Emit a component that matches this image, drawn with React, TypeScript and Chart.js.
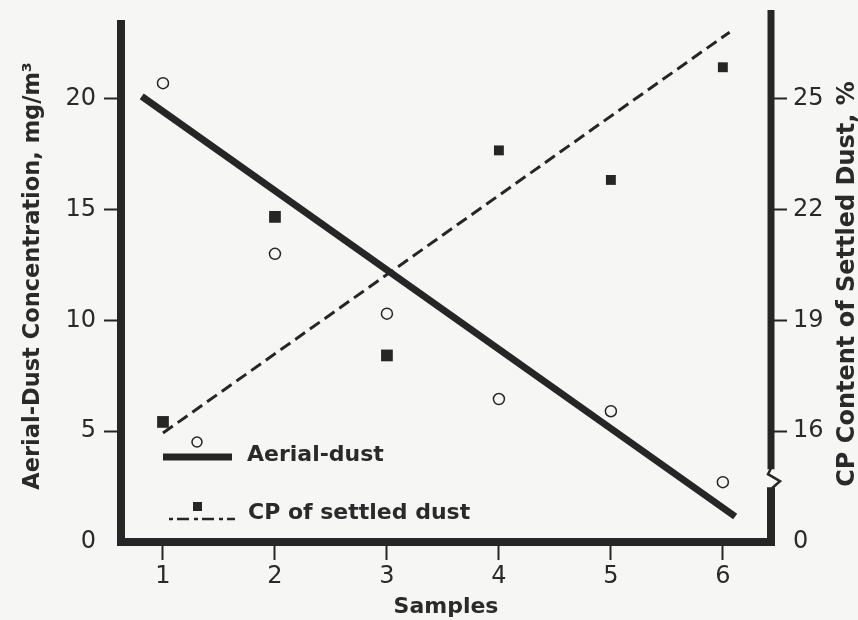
import React, { useEffect, useRef } from 'react';
import { Chart, registerables } from 'chart.js';

Chart.register(...registerables);

// ---- data ----
const SAMPLES = [1, 2, 3, 4, 5, 6];
const AERIAL_DUST = [20.7, 13.0, 10.3, 6.45, 5.9, 2.7]; // mg/m3, open circles
const CP_SETTLED = [16.25, 21.8, 18.05, 23.6, 22.8, 25.85]; // %, filled squares
const AERIAL_TREND_X = [0.81, 6.11];
const AERIAL_TREND_Y = [20.1, 1.15];
const CP_TREND_X = [1.0, 6.06];
const CP_TREND_Y = [15.95, 26.8];

const X_TICKS = [1, 2, 3, 4, 5, 6];
const Y_TICKS = [0, 5, 10, 15, 20];
const Y2_TICKS = [13, 16, 19, 22, 25]; // 13 sits at the axis origin below the break
const Y2_TICK_LABELS = ['0', '16', '19', '22', '25'];
const Y2_BREAK = 14.7;

const X_TITLE = 'Samples';
const Y_TITLE = 'Aerial-Dust Concentration, mg/m\u00B3';
const Y2_TITLE = 'CP Content of Settled Dust, %';
const LEGEND_AERIAL = 'Aerial-dust';
const LEGEND_CP = 'CP of settled dust';

const FONT = '"DejaVu Sans", sans-serif';
const INK = '#262626';
const TEXT = '#2a2a2a';
const BG = '#f6f6f4';

const hideAt = (v: number) => (ctx: any) =>
  ctx.tick && ctx.tick.value === v ? 'rgba(0,0,0,0)' : INK;

const zeroPad = (s: any) => {
  s.paddingTop = 0;
  s.paddingBottom = 0;
  s.paddingLeft = 0;
  s.paddingRight = 0;
};

const decorPlugin = {
  id: 'decor',
  afterDraw(chart: any) {
    const { ctx, chartArea, scales } = chart;
    const xL = chartArea.left;
    const xR = chartArea.right;
    const yB = chartArea.bottom;
    const yT = chartArea.top;
    const yBreak = scales.y2.getPixelForValue(Y2_BREAK);
    ctx.save();
    ctx.strokeStyle = INK;
    ctx.lineCap = 'butt';
    ctx.lineJoin = 'miter';
    // left + bottom + lower right axis
    ctx.lineWidth = 8;
    ctx.beginPath();
    ctx.moveTo(xL, yT + 10);
    ctx.lineTo(xL, yB);
    ctx.lineTo(xR, yB);
    ctx.lineTo(xR, yBreak + 8);
    ctx.stroke();
    // upper right axis
    ctx.lineWidth = 7;
    ctx.beginPath();
    ctx.moveTo(xR, yBreak - 10);
    ctx.lineTo(xR, yT);
    ctx.stroke();
    // zigzag break
    ctx.lineWidth = 2.5;
    ctx.beginPath();
    ctx.moveTo(xR, yBreak - 11);
    ctx.lineTo(xR - 3, yBreak - 5);
    ctx.lineTo(xR + 9, yBreak + 2);
    ctx.lineTo(xR + 1, yBreak + 9);
    ctx.stroke();

    // right axis title (reads bottom to top)
    ctx.fillStyle = TEXT;
    ctx.font = 'bold 24px ' + FONT;
    ctx.textAlign = 'center';
    ctx.textBaseline = 'middle';
    ctx.save();
    ctx.translate(xR + 77, (yT + yB) / 2 + 8);
    ctx.rotate(-Math.PI / 2);
    ctx.fillText(Y2_TITLE, 0, 0);
    ctx.restore();

    // legend
    const lx = xL + 42;
    const ly1 = yB - 85;
    const ly2 = yB - 23;
    ctx.lineWidth = 7;
    ctx.beginPath();
    ctx.moveTo(lx, ly1);
    ctx.lineTo(lx + 69, ly1);
    ctx.stroke();
    ctx.lineWidth = 1.5;
    ctx.beginPath();
    ctx.arc(lx + 34, ly1 - 15, 5, 0, Math.PI * 2);
    ctx.stroke();
    ctx.lineWidth = 2.5;
    ctx.setLineDash([4, 4, 12, 5]);
    ctx.beginPath();
    ctx.moveTo(lx + 6, ly2);
    ctx.lineTo(lx + 72, ly2);
    ctx.stroke();
    ctx.setLineDash([]);
    ctx.fillStyle = INK;
    ctx.fillRect(lx + 30, ly2 - 17, 9, 9);
    ctx.fillStyle = TEXT;
    ctx.font = 'bold 22px ' + FONT;
    ctx.textAlign = 'left';
    ctx.textBaseline = 'middle';
    ctx.fillText(LEGEND_AERIAL, lx + 84, ly1 - 2);
    ctx.fillText(LEGEND_CP, lx + 85, ly2 - 6);
    ctx.restore();
  },
};

export default function App() {
  const canvasRef = useRef<HTMLCanvasElement | null>(null);

  useEffect(() => {
    const canvas = canvasRef.current;
    if (!canvas) return;
    Chart.defaults.font.family = FONT;
    const chart = new Chart(canvas, {
      type: 'scatter',
      data: {
        datasets: [
          {
            label: 'Aerial-dust trend',
            data: AERIAL_TREND_X.map((x, i) => ({ x, y: AERIAL_TREND_Y[i] })),
            yAxisID: 'y',
            showLine: true,
            borderColor: INK,
            borderWidth: 7,
            borderCapStyle: 'butt',
            pointRadius: 0,
          },
          {
            label: 'CP trend',
            data: CP_TREND_X.map((x, i) => ({ x, y: CP_TREND_Y[i] })),
            yAxisID: 'y2',
            showLine: true,
            borderColor: INK,
            borderWidth: 3,
            borderDash: [12, 6],
            pointRadius: 0,
          },
          {
            label: LEGEND_AERIAL,
            data: SAMPLES.map((x, i) => ({ x, y: AERIAL_DUST[i] })),
            yAxisID: 'y',
            pointStyle: 'circle',
            pointRadius: 5.5,
            pointBorderWidth: 1.5,
            pointBorderColor: INK,
            pointBackgroundColor: 'rgba(0,0,0,0)',
          },
          {
            label: LEGEND_CP,
            data: SAMPLES.map((x, i) => ({ x, y: CP_SETTLED[i] })),
            yAxisID: 'y2',
            pointStyle: 'rect',
            pointRadius: (c: any) => (c.dataIndex < 3 ? 8.3 : 7),
            pointBorderWidth: 0,
            pointBackgroundColor: INK,
            pointBorderColor: INK,
          },
        ],
      },
      options: {
        animation: false,
        responsive: true,
        maintainAspectRatio: false,
        layout: { padding: { top: 10, left: 0, right: 0, bottom: 0 } },
        plugins: { legend: { display: false }, tooltip: { enabled: false } },
        scales: {
          x: {
            type: 'linear',
            position: 'bottom',
            min: 0.625,
            max: 6.43,
            afterBuildTicks: (s: any) => {
              s.ticks = X_TICKS.map((v) => ({ value: v }));
            },
            afterFit: (s: any) => {
              s.height = 78;
              zeroPad(s);
            },
            border: { display: false },
            grid: {
              display: true,
              drawOnChartArea: false,
              drawTicks: true,
              tickLength: 18,
              tickWidth: 2,
              tickColor: INK,
            },
            ticks: {
              color: TEXT,
              font: { family: FONT, size: 24 },
              padding: 2,
              autoSkip: false,
              maxRotation: 0,
              callback: (v: any) => String(v),
            },
            title: {
              display: true,
              text: X_TITLE,
              color: TEXT,
              font: { family: FONT, size: 22, weight: 'bold' },
              padding: { top: 0, bottom: 0 },
            },
          },
          y: {
            type: 'linear',
            position: 'left',
            min: 0,
            max: 24,
            afterBuildTicks: (s: any) => {
              s.ticks = Y_TICKS.map((v) => ({ value: v }));
            },
            afterFit: (s: any) => {
              s.width = 121;
              zeroPad(s);
            },
            border: { display: false },
            grid: {
              display: true,
              drawOnChartArea: false,
              drawTicks: true,
              tickLength: 17,
              tickWidth: 2,
              tickColor: hideAt(0),
            },
            ticks: {
              color: TEXT,
              font: { family: FONT, size: 24 },
              padding: 8,
              autoSkip: false,
              callback: (v: any) => String(v),
            },
            title: {
              display: true,
              text: Y_TITLE,
              color: TEXT,
              font: { family: FONT, size: 22.5, weight: 'bold' },
              padding: { top: 20, bottom: 0 },
            },
          },
          y2: {
            type: 'linear',
            position: 'right',
            min: 13,
            max: 27.4,
            afterBuildTicks: (s: any) => {
              s.ticks = Y2_TICKS.map((v) => ({ value: v }));
            },
            afterFit: (s: any) => {
              s.width = 87;
              zeroPad(s);
            },
            border: { display: false },
            grid: {
              display: true,
              drawOnChartArea: false,
              drawTicks: true,
              tickLength: 16,
              tickWidth: 2,
              tickColor: hideAt(13),
            },
            ticks: {
              color: TEXT,
              font: { family: FONT, size: 24 },
              padding: 6,
              autoSkip: false,
              callback: (v: any) => Y2_TICK_LABELS[Y2_TICKS.indexOf(Number(v))] ?? '',
            },
            title: { display: false },
          },
        },
      },
      plugins: [decorPlugin],
    } as any);
    return () => chart.destroy();
  }, []);

  return (
    <div
      style={{
        position: 'fixed',
        left: 0,
        top: 0,
        width: 858,
        height: 620,
        background: BG,
      }}
    >
      <canvas ref={canvasRef} />
    </div>
  );
}
